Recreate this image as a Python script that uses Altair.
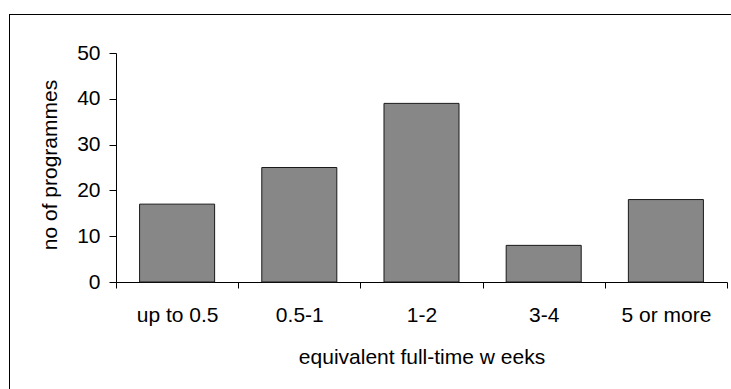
import altair as alt
import pandas as pd

# Programme counts by length of placement
categories = ["up to 0.5", "0.5-1", "1-2", "3-4", "5 or more"]
programmes = [17, 25, 39, 8, 18]

df = pd.DataFrame({"weeks": categories, "count": programmes})

FONT = "Liberation Sans"
FS = 21

x_enc = alt.X(
    "weeks:N",
    sort=categories,
    scale=alt.Scale(paddingInner=0, paddingOuter=0),
    axis=alt.Axis(
        title="equivalent full-time w eeks",
        labelAngle=0,
        tickBand="extent",
        tickSize=6,
        tickColor="black",
        domainColor="black",
        labelPadding=16,
        titleY=81,
        titleBaseline="alphabetic",
        titleFontWeight="normal",
    ),
)

y_enc = alt.Y(
    "count:Q",
    scale=alt.Scale(domain=[0, 50], nice=False),
    axis=alt.Axis(
        title="no of programmes",
        values=[0, 10, 20, 30, 40, 50],
        grid=False,
        tickSize=7,
        tickColor="black",
        domainColor="black",
        labelPadding=9,
        titleX=-60,
        titleY=111.5,
        titleBaseline="alphabetic",
        titleFontWeight="normal",
    ),
)

bars = alt.Chart(df).mark_bar(
    width=alt.RelativeBandSize(0.614),
    color="#878787",
    stroke="#1a1a1a",
    strokeWidth=1,
).encode(x=x_enc, y=y_enc)

# Frame around the whole chart area
frame = alt.Chart(df).mark_rect(
    filled=False, stroke="black", strokeWidth=1
).encode(
    x=alt.value(-106.5),
    x2=alt.value(700),
    y=alt.value(-38.5),
    y2=alt.value(400),
)

chart = (
    alt.layer(frame, bars)
    .properties(
        width=611,
        height=229,
        autosize=alt.AutoSizeParams(type="none"),
        padding={"left": 116, "top": 53, "right": 4, "bottom": 107},
        background="white",
    )
    .configure_view(stroke=None)
    .configure_axis(
        labelFont=FONT,
        titleFont=FONT,
        labelFontSize=FS,
        titleFontSize=FS,
        labelColor="black",
        titleColor="black",
        domainWidth=1,
        tickWidth=1,
    )
)

chart.save("out.html", embed_options={"renderer": "svg", "actions": False})
